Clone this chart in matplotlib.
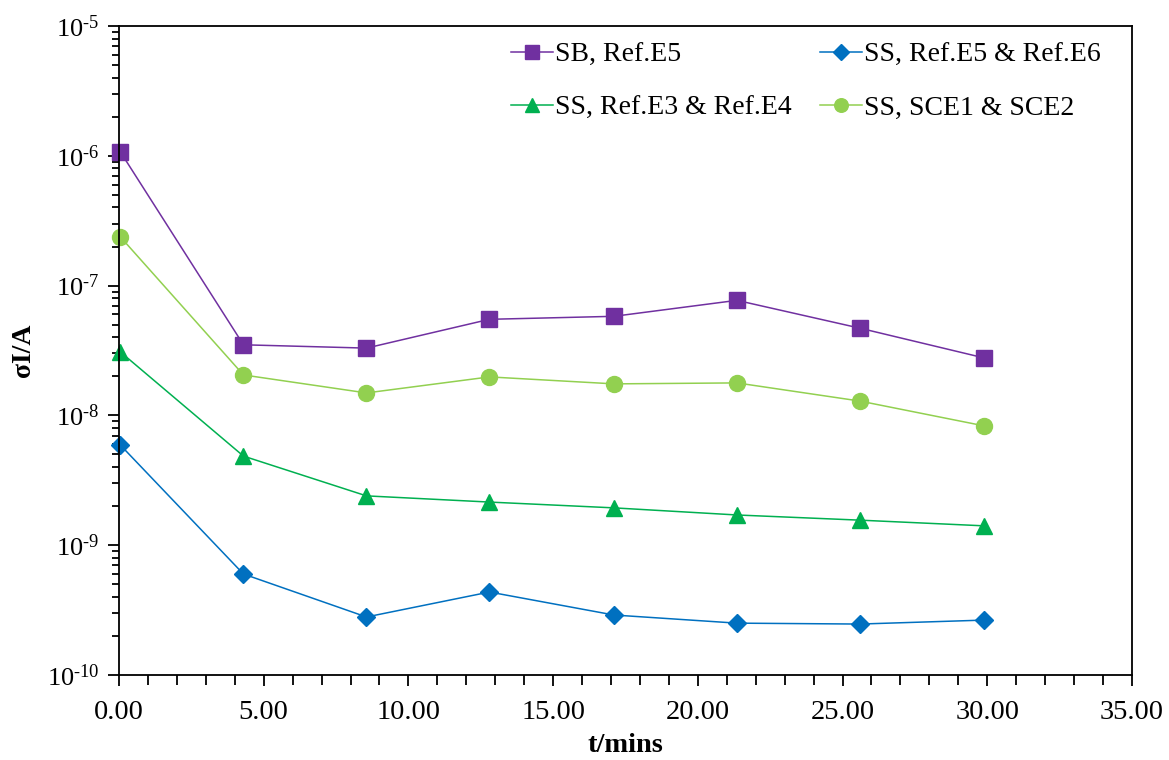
import math

import matplotlib
matplotlib.use('Agg')
import matplotlib.pyplot as plt
from matplotlib.ticker import LogLocator, NullFormatter, FuncFormatter, MultipleLocator

plt.rcParams['font.family'] = ['Liberation Serif', 'DejaVu Serif']
plt.rcParams['mathtext.fontset'] = 'custom'
plt.rcParams['mathtext.rm'] = 'Liberation Serif'

# time points (mins)
t = [0.05, 4.3, 8.55, 12.8, 17.1, 21.35, 25.6, 29.9]

# sigma I / A for each configuration
sb_e5 = [1.07e-6, 3.5e-8, 3.3e-8, 5.5e-8, 5.8e-8, 7.7e-8, 4.7e-8, 2.77e-8]
ss_e5_e6 = [5.9e-9, 6.0e-10, 2.8e-10, 4.36e-10, 2.9e-10, 2.51e-10, 2.47e-10, 2.65e-10]
ss_e3_e4 = [3.08e-8, 4.86e-9, 2.4e-9, 2.15e-9, 1.94e-9, 1.71e-9, 1.56e-9, 1.41e-9]
ss_sce = [2.37e-7, 2.05e-8, 1.49e-8, 1.98e-8, 1.75e-8, 1.78e-8, 1.29e-8, 8.3e-9]

labels = ['SB, Ref.E5', 'SS, Ref.E5 & Ref.E6', 'SS, Ref.E3 & Ref.E4', 'SS, SCE1 & SCE2']

fig = plt.figure(figsize=(11.69, 7.6), dpi=100)
ax = fig.add_axes([0.1018, 0.1118, 0.8665, 0.854])

l1, = ax.plot(t, sb_e5, color='#7030A0', marker='s', markersize=11.5, lw=1.1, label=labels[0])
l2, = ax.plot(t, ss_e5_e6, color='#0070C0', marker='D', markersize=9, lw=1.1, label=labels[1])
l3, = ax.plot(t, ss_e3_e4, color='#00B050', marker='^', markersize=11.5, lw=1.1, label=labels[2])
l4, = ax.plot(t, ss_sce, color='#92D050', marker='o', markersize=11.5, lw=1.1, label=labels[3])

ax.set_yscale('log')
ax.set_ylim(1e-10, 1e-5)
ax.set_xlim(0, 35)
for m in ax.lines:
    m.set_clip_on(False)


def ylab(v, p):
    e = int(round(math.log10(v)))
    return '$\\mathrm{10^{\u2010%d}}$' % (-e)


ax.xaxis.set_major_locator(MultipleLocator(5))
ax.xaxis.set_minor_locator(MultipleLocator(1))
ax.xaxis.set_major_formatter(FuncFormatter(lambda v, p: '%.2f' % v))
ax.yaxis.set_major_locator(LogLocator(base=10, numticks=10))
ax.yaxis.set_minor_locator(LogLocator(base=10, subs=range(2, 10), numticks=100))
ax.yaxis.set_minor_formatter(NullFormatter())
ax.yaxis.set_major_formatter(FuncFormatter(ylab))

ax.tick_params(axis='both', which='major', direction='out', length=8, width=1.3, colors='black')
ax.tick_params(axis='both', which='minor', direction='out', length=5, width=1.3)
ax.tick_params(axis='x', which='minor', length=7)
ax.tick_params(axis='x', which='major', labelsize=20.5, pad=10)
ax.tick_params(axis='y', which='major', labelsize=19, pad=6)
for s in ax.spines.values():
    s.set_linewidth(1.3)

ax.set_xlabel('t/mins', fontsize=20.5, fontweight='bold', labelpad=6)
ax.set_ylabel('σI/A', fontsize=20, fontweight='bold', labelpad=8)

ax.legend([l1, l3, l2, l4], [labels[0], labels[2], labels[1], labels[3]],
          loc='upper left', ncol=2, frameon=False, fontsize=20, handlelength=1.5,
          handletextpad=0.1, columnspacing=1.0, labelspacing=1.0,
          borderpad=0, borderaxespad=0,
          bbox_to_anchor=(0.387, 0.975), markerscale=0.85)

fig.savefig('out.png', dpi=100)
